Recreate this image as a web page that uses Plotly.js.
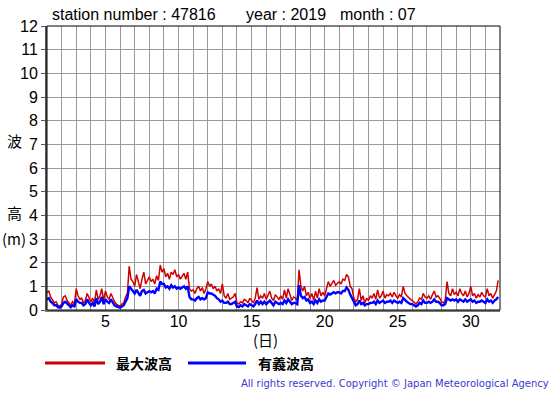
<!DOCTYPE html>
<html><head><meta charset="utf-8">
<script src="https://cdn.plot.ly/plotly-3.0.1.min.js"></script>
<style>html,body{margin:0;padding:0;background:#fff}#g{width:555px;height:395px}</style>
</head><body><div id="g"></div>
<script>
// 3-hourly readings (8 per day), July 2019, station 47816
const samplesPerDay = 8;
const maxWave = [
0.75,0.8,0.55,0.45,0.3,0.35,0.2,0.15,
0.25,0.55,0.6,0.4,0.3,0.2,0.35,0.25,
0.9,0.6,0.45,0.5,0.3,0.4,0.7,0.5,
0.35,0.5,0.3,0.85,0.45,0.6,0.9,0.4,
0.8,0.55,0.45,0.7,0.5,0.35,0.25,0.2,
0.15,0.25,0.3,0.55,0.7,1.85,1.3,1.2,
1.0,1.5,1.2,0.9,1.3,1.6,1.1,1.25,
1.4,1.2,1.3,1.1,1.45,1.25,1.9,1.6,
1.75,1.4,1.55,1.3,1.6,1.5,1.7,1.4,
1.5,1.3,1.45,1.55,1.3,1.6,0.9,0.8,
0.85,0.7,0.9,1.0,0.8,0.95,0.7,0.9,
1.2,1.0,1.1,0.9,1.0,0.8,0.9,0.7,
1.1,0.6,0.5,0.7,0.45,0.5,0.55,0.7,
0.3,0.25,0.35,0.3,0.45,0.4,0.3,0.5,
0.4,0.3,0.5,0.95,0.45,0.6,0.5,0.7,
0.45,0.6,0.8,0.5,0.4,0.65,0.55,0.45,
0.6,0.45,0.85,0.5,0.9,0.6,0.4,0.55,
0.5,0.4,1.7,1.0,0.8,1.0,0.6,0.75,
0.5,0.7,0.4,0.8,0.5,0.9,0.6,0.75,
0.6,0.9,1.2,1.0,1.1,1.25,1.05,1.15,
1.2,1.1,1.3,1.25,1.5,1.4,1.0,0.9,
0.5,0.35,0.45,0.9,0.4,0.6,0.3,0.5,
0.4,0.6,0.5,0.7,0.45,0.85,0.5,0.6,
0.8,0.5,0.65,0.6,0.7,0.55,0.75,0.6,
0.5,0.65,0.55,1.0,0.7,0.6,0.5,0.45,
0.4,0.3,0.25,0.35,0.5,0.45,0.7,0.55,
0.5,0.6,0.45,0.65,0.8,0.55,0.6,0.5,
0.35,0.3,0.4,1.2,0.7,0.6,0.9,0.65,
0.75,0.6,0.9,0.7,0.6,0.8,0.55,0.7,
1.0,0.6,0.7,0.5,0.65,0.55,0.75,0.6,
0.55,0.9,0.6,0.7,0.5,0.65,0.8,1.25
];
const sigWave = [
0.45,0.5,0.35,0.3,0.2,0.2,0.12,0.1,
0.15,0.3,0.35,0.25,0.2,0.12,0.2,0.15,
0.45,0.35,0.3,0.3,0.2,0.25,0.45,0.3,
0.2,0.3,0.15,0.5,0.25,0.35,0.55,0.25,
0.45,0.35,0.3,0.45,0.3,0.2,0.15,0.12,
0.1,0.15,0.2,0.35,0.5,1.0,0.9,0.8,
0.7,0.85,0.7,0.6,0.8,0.85,0.7,0.75,
0.8,0.75,0.8,0.7,0.9,0.85,1.2,1.1,
1.1,0.95,1.0,0.9,1.05,0.95,1.0,0.9,
0.95,0.9,0.95,1.0,0.9,1.0,0.55,0.45,
0.45,0.4,0.5,0.55,0.45,0.5,0.45,0.5,
0.75,0.7,0.7,0.65,0.6,0.5,0.45,0.35,
0.4,0.3,0.3,0.35,0.25,0.25,0.3,0.35,
0.15,0.12,0.2,0.15,0.25,0.2,0.15,0.25,
0.2,0.15,0.25,0.4,0.25,0.35,0.25,0.35,
0.25,0.35,0.4,0.3,0.2,0.35,0.3,0.25,
0.3,0.25,0.4,0.3,0.45,0.35,0.25,0.3,
0.3,0.25,1.05,0.6,0.5,0.55,0.4,0.45,
0.3,0.35,0.25,0.4,0.3,0.45,0.35,0.4,
0.4,0.55,0.7,0.65,0.7,0.75,0.7,0.75,
0.75,0.7,0.8,0.8,0.95,0.85,0.65,0.5,
0.3,0.2,0.25,0.4,0.25,0.3,0.2,0.25,
0.25,0.3,0.3,0.35,0.25,0.4,0.3,0.35,
0.4,0.3,0.35,0.35,0.4,0.3,0.4,0.35,
0.3,0.35,0.3,0.5,0.4,0.35,0.3,0.25,
0.25,0.2,0.15,0.2,0.3,0.25,0.4,0.3,
0.3,0.35,0.3,0.35,0.45,0.35,0.35,0.3,
0.2,0.2,0.25,0.5,0.45,0.4,0.45,0.4,
0.45,0.35,0.45,0.4,0.35,0.45,0.35,0.4,
0.45,0.35,0.4,0.3,0.35,0.35,0.4,0.35,
0.3,0.45,0.35,0.4,0.3,0.4,0.45,0.55
];
const xTickVals = [5,10,15,20,25,30];
const yTickVals = [0,1,2,3,4,5,6,7,8,9,10,11,12];
const titleParts = ["station number : 47816","year : 2019","month : 07"];
const legendLabels = ["最大波高","有義波高"];

const days = maxWave.map((_, i) => 1 + i / samplesPerDay);

// pixel helpers for placement (plot area 47..500 x, 26..310 y)
const L = 47, R = 500, T = 26, B = 310;
const px = x => (x - L) / (R - L);
const py = y => (B - y) / (B - T);

const sans = "Liberation Sans, Arial, sans-serif";
const cjk = "Noto Sans CJK JP, sans-serif";

const data = [
  {x: days, y: maxWave, type: 'scatter', mode: 'lines', line: {color: '#d00000', width: 1.5}, hoverinfo: 'skip'},
  {x: days, y: sigWave, type: 'scatter', mode: 'lines', line: {color: '#0000ff', width: 2.4}, hoverinfo: 'skip'}
];

const ann = [];
const tpos = [50, 244, 338];
titleParts.forEach((t, i) => ann.push({text: t, xref: 'paper', yref: 'paper', x: px(tpos[i]), y: py(15), xanchor: 'left', yanchor: 'middle', showarrow: false, font: {family: sans, size: 16, color: '#000'}}));
[['波', 140, 15], ['高', 212, 15], ['(m)', 238, 15]].forEach(([t, y, s]) => ann.push({text: t, xref: 'paper', yref: 'paper', x: px(14), y: py(y), xanchor: 'center', yanchor: 'middle', showarrow: false, font: {family: cjk, size: s, color: '#000'}}));
ann.push({text: '(日)', xref: 'paper', yref: 'paper', x: px(265), y: py(339), xanchor: 'center', yanchor: 'middle', showarrow: false, font: {family: cjk, size: 15, color: '#000'}});
ann.push({text: legendLabels[0], xref: 'paper', yref: 'paper', x: px(114), y: py(363), xanchor: 'left', yanchor: 'middle', showarrow: false, font: {family: cjk, size: 14, color: '#000', weight: 'bold'}});
ann.push({text: legendLabels[1], xref: 'paper', yref: 'paper', x: px(256), y: py(363), xanchor: 'left', yanchor: 'middle', showarrow: false, font: {family: cjk, size: 14, color: '#000', weight: 'bold'}});
ann.push({text: 'All rights reserved. Copyright © Japan Meteorological Agency', xref: 'paper', yref: 'paper', x: px(551), y: py(384), xanchor: 'right', yanchor: 'middle', showarrow: false, font: {family: 'DejaVu Sans, sans-serif', size: 10, color: '#3a3ad0'}});

const shapes = [
  {type: 'rect', xref: 'paper', yref: 'paper', x0: 0, x1: 1, y0: 0, y1: 1, line: {color: '#000', width: 1}},
  {type: 'line', xref: 'paper', yref: 'paper', x0: px(45), x1: px(105), y0: py(363), y1: py(363), line: {color: '#cc0000', width: 3}},
  {type: 'line', xref: 'paper', yref: 'paper', x0: px(188), x1: px(246), y0: py(363), y1: py(363), line: {color: '#0000ff', width: 3}}
];

const layout = {
  width: 555, height: 395,
  margin: {l: L, r: 555 - R, t: T, b: 395 - B, pad: 0},
  paper_bgcolor: '#fff', plot_bgcolor: '#fff',
  showlegend: false,
  xaxis: {range: [1, 32], tickmode: 'array', tickvals: xTickVals,
    showgrid: false, zeroline: false, showline: true, linecolor: '#777', linewidth: 2,
    ticks: '', ticklabelstandoff: -4, tickfont: {family: sans, size: 16, color: '#000'},
    minor: {tickmode: 'linear', tick0: 1, dtick: 1, showgrid: true, gridcolor: '#9a9a9a', gridwidth: 1}},
  yaxis: {range: [0, 12], tickmode: 'array', tickvals: yTickVals,
    showgrid: true, gridcolor: '#9a9a9a', gridwidth: 1, zeroline: false,
    showline: true, linecolor: '#555', linewidth: 2,
    ticks: 'outside', ticklen: 4, tickcolor: '#555', tickfont: {family: sans, size: 16, color: '#000'}},
  annotations: ann,
  shapes: shapes
};
Plotly.newPlot('g', data, layout, {staticPlot: true, displayModeBar: false});
</script></body></html>
